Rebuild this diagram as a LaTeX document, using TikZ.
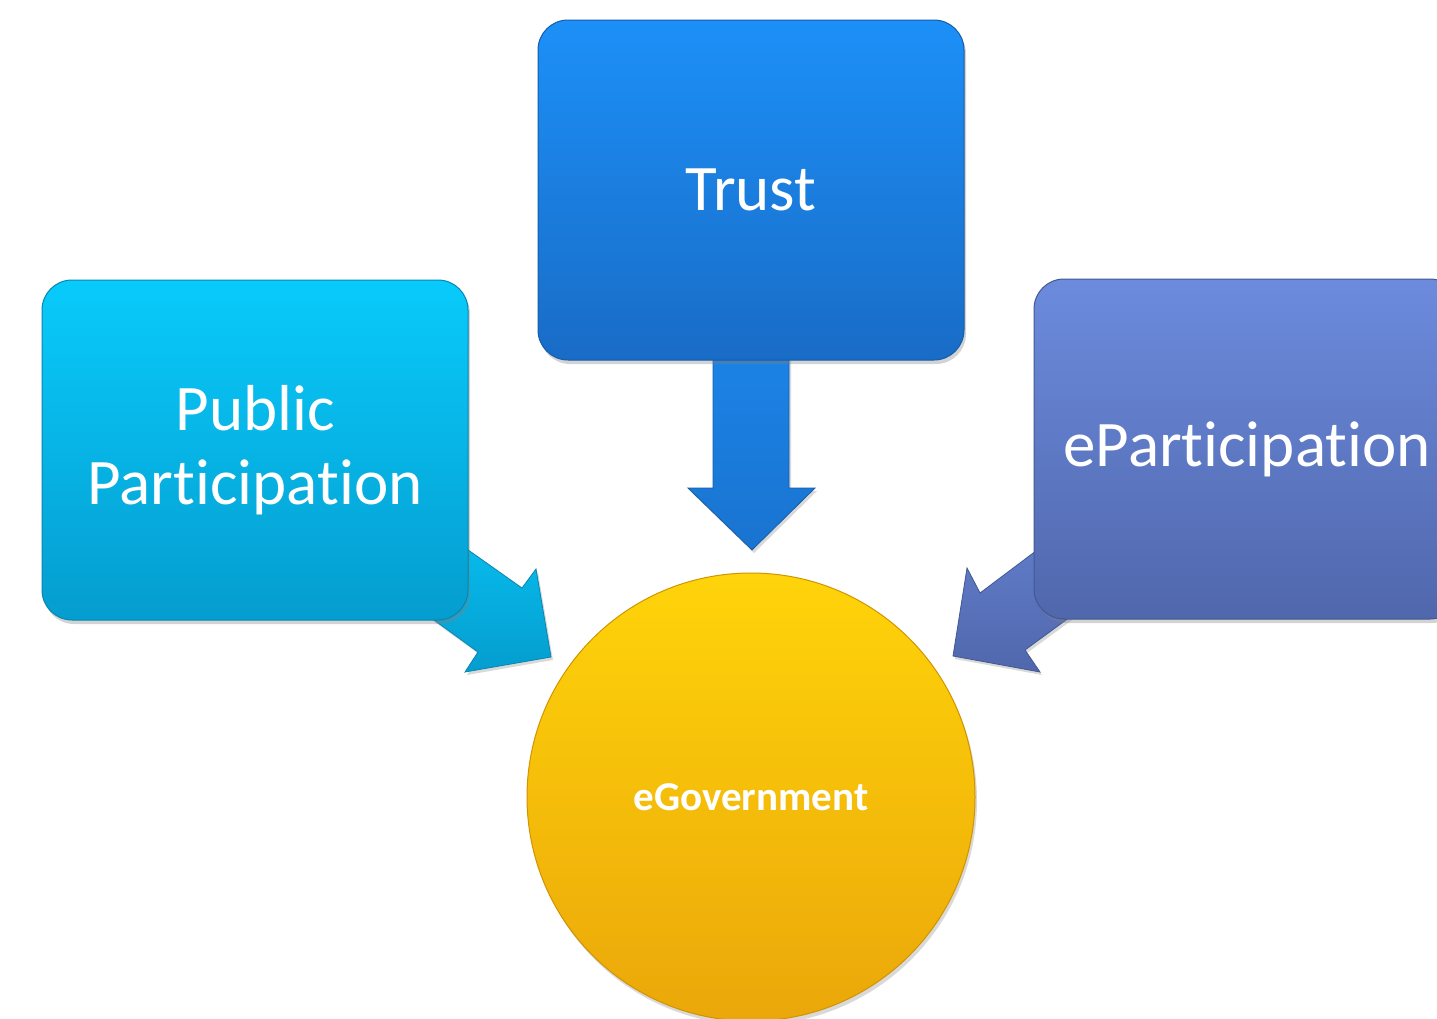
\documentclass[tikz,border=0pt]{standalone}
\usepackage{fontspec}
\setmainfont{Carlito}[Ligatures=NoCommon]
\usetikzlibrary{shadows}
\definecolor{pubtop}{HTML}{08CBFB}
\definecolor{pubbot}{HTML}{059DCF}
\definecolor{pubedge}{HTML}{0786B0}
\definecolor{trtop}{HTML}{1C90F8}
\definecolor{trbot}{HTML}{196CC6}
\definecolor{tredge}{HTML}{155DA8}
\definecolor{eptop}{HTML}{6C8BDD}
\definecolor{epbot}{HTML}{5067AC}
\definecolor{epedge}{HTML}{435892}
\definecolor{gotop}{HTML}{FFD40A}
\definecolor{gobot}{HTML}{EBA70A}
\definecolor{goedge}{HTML}{D09400}
\tikzset{
  boxnode/.style={rectangle, rounded corners=30pt, minimum width=426pt, minimum height=340pt,
    inner sep=0pt, text=white, align=center, line width=1pt,
    font=\fontsize{65}{74}\selectfont,
    drop shadow={opacity=0.35, shadow xshift=2pt, shadow yshift=-4pt}},
  blockarrow/.style={line width=0.8pt, line join=miter,
    drop shadow={opacity=0.3, shadow xshift=2pt, shadow yshift=-3pt}},
}
\begin{document}
\begin{tikzpicture}[x=1pt,y=-1pt]
\useasboundingbox (0,0) rectangle (1437,1018);
\clip (0,0) rectangle (1437,1018);
% block arrows (drawn first, partly hidden by the boxes)
\draw[blockarrow, draw=pubedge, top color=pubtop!90!pubbot, bottom color=pubbot]
  (389,494) -- (522,588) -- (536,569) -- (551,657) -- (465,672) -- (478,652) -- (357,564) -- cycle;
\draw[blockarrow, draw=tredge, top color=trtop!70!trbot, bottom color=trbot!80!trtop]
  (713,330) -- (713,488) -- (688,488) -- (752,550) -- (815,488) -- (789,488) -- (789,330) -- cycle;
\draw[blockarrow, draw=epedge, top color=eptop!80!epbot, bottom color=epbot]
  (1113,493) -- (980,593) -- (967,568) -- (953,656) -- (1040,672) -- (1025,650) -- (1148,560) -- cycle;
% boxes
\node[boxnode, draw=pubedge, top color=pubtop, bottom color=pubbot] (pub) at (255,450) {Public\\Participation};
\node[boxnode, draw=tredge, top color=trtop, bottom color=trbot] (trust) at (751,190) {Trust};
\node[boxnode, draw=epedge, top color=eptop, bottom color=epbot] (epart) at (1247,449) {eParticipation};
% circle
\node[circle, minimum size=448pt, inner sep=0pt, draw=goedge, line width=1pt,
  top color=gotop, bottom color=gobot, text=white,
  font=\fontsize{41}{48}\selectfont\bfseries,
  drop shadow={opacity=0.3, shadow xshift=2pt, shadow yshift=-4pt}] (egov) at (751,797) {eGovernment};
\end{tikzpicture}
\end{document}
